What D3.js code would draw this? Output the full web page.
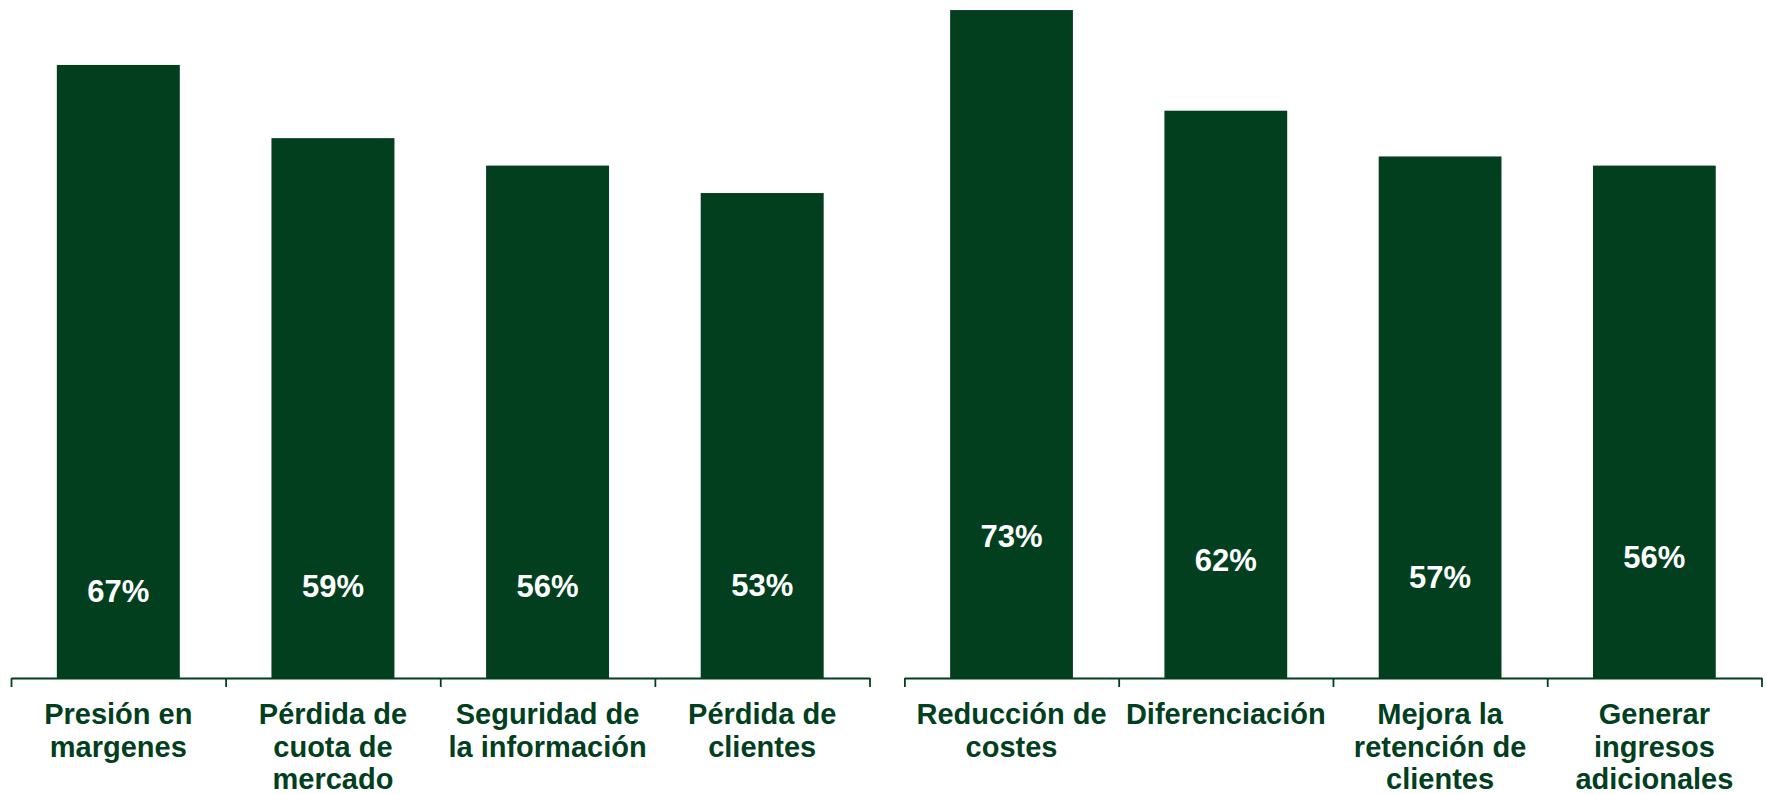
<!DOCTYPE html>
<html>
<head>
<meta charset="utf-8">
<script src="https://cdn.jsdelivr.net/npm/d3@7/dist/d3.min.js"></script>
<style>
  html, body { margin: 0; padding: 0; background: #ffffff; }
  svg { display: block; }
</style>
</head>
<body>
<svg id="chart" width="1766" height="794"></svg>
<script>
// ---- Data ----
const leftCategories = [
  ["Presión en", "margenes"],
  ["Pérdida de", "cuota de", "mercado"],
  ["Seguridad de", "la información"],
  ["Pérdida de", "clientes"]
];
const leftValues = [67, 59, 56, 53];

const rightCategories = [
  ["Reducción de", "costes"],
  ["Diferenciación"],
  ["Mejora la", "retención de", "clientes"],
  ["Generar", "ingresos", "adicionales"]
];
const rightValues = [73, 62, 57, 56];

// ---- Layout (not data) ----
const GREEN = "#023f1f";
const axisY = 678;
const pxPerPct = 9.15;
const barFrac = 0.573;
// label baselines expressed in value units above the axis
const leftLabelLevels = [8.3, 8.9, 8.9, 9.0];
const rightLabelLevels = [14.3, 11.7, 9.8, 12.0];

const svg = d3.select("#chart");

const y = d3.scaleLinear().domain([0, 75]).range([axisY, axisY - 75 * pxPerPct]);

function panel(x0, x1, cats, vals, levels) {
  const names = cats.map(c => c.join(" "));
  const x = d3.scaleBand().domain(names).range([x0, x1]).padding(0);
  const bw = x.bandwidth();
  const barW = bw * barFrac;
  const g = svg.append("g");

  g.selectAll("rect.bar")
    .data(vals)
    .join("rect")
    .attr("class", "bar")
    .attr("x", (d, i) => x(names[i]) + (bw - barW) / 2)
    .attr("width", barW)
    .attr("y", d => y(d))
    .attr("height", d => y(0) - y(d))
    .attr("fill", GREEN);

  g.selectAll("text.val")
    .data(vals)
    .join("text")
    .attr("class", "val")
    .attr("x", (d, i) => x(names[i]) + bw / 2)
    .attr("y", (d, i) => y(levels[i]))
    .attr("text-anchor", "middle")
    .attr("fill", "#ffffff")
    .style("font-family", "Liberation Sans, Arial, sans-serif")
    .style("font-weight", "bold")
    .style("font-size", "31px")
    .text(d => d + "%");

  // axis with ticks at band boundaries
  const bx = d3.scaleLinear().domain([0, names.length]).range([x0, x1]);
  const axis = d3.axisBottom(bx)
    .tickValues(d3.range(names.length + 1))
    .tickSize(9)
    .tickSizeOuter(0)
    .tickFormat("");
  const ag = g.append("g").attr("transform", `translate(0,${axisY})`).call(axis);
  ag.select(".domain").attr("stroke", GREEN).attr("stroke-width", 1.8);
  ag.selectAll(".tick line").attr("stroke", GREEN).attr("stroke-width", 1.8);

  const labels = g.selectAll("text.cat")
    .data(cats)
    .join("text")
    .attr("class", "cat")
    .attr("x", (d, i) => x(names[i]) + bw / 2)
    .attr("y", 724)
    .attr("text-anchor", "middle")
    .attr("fill", GREEN)
    .style("font-family", "Liberation Sans, Arial, sans-serif")
    .style("font-weight", "bold")
    .style("font-size", "29px");

  labels.selectAll("tspan")
    .data((d, i) => d.map(line => ({ line, cx: x(names[i]) + bw / 2 })))
    .join("tspan")
    .attr("x", d => d.cx)
    .attr("dy", (d, j) => j === 0 ? 0 : 32.6)
    .text(d => d.line);
}

panel(11, 869.5, leftCategories, leftValues, leftLabelLevels);
panel(904.4, 1761.5, rightCategories, rightValues, rightLabelLevels);
</script>
</body>
</html>
